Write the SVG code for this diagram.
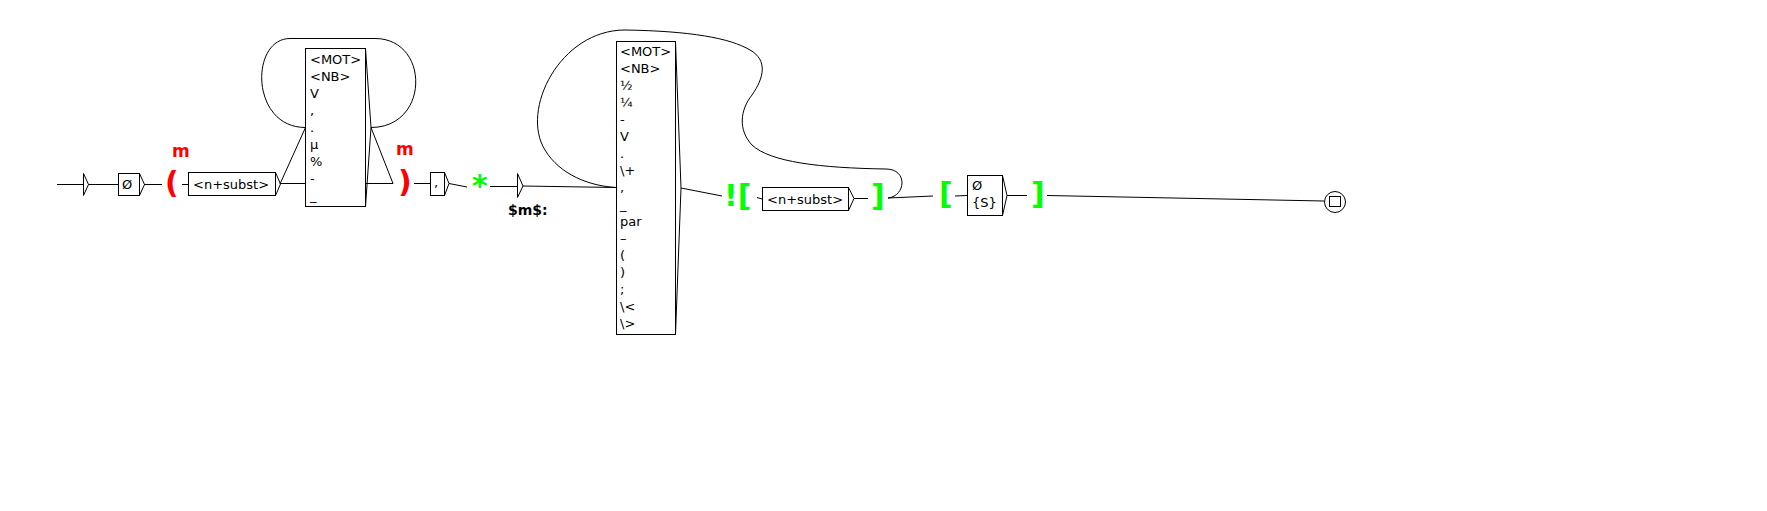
<svg xmlns="http://www.w3.org/2000/svg" width="1767" height="511" viewBox="0 0 1767 511">
<style>
.l{stroke:#000;stroke-width:1;fill:none}
.b{fill:#fff;stroke:#000;stroke-width:1}
.t{font-family:"DejaVu Sans",sans-serif;font-size:13px;fill:#000}
.c{font-family:"DejaVu Sans",sans-serif;font-size:30px;font-weight:bold}
.v{font-family:"DejaVu Sans",sans-serif;font-size:17px;font-weight:bold;fill:#f00}
.r{fill:#f00}
.g{fill:#0f0}
</style>
<rect width="1767" height="511" fill="#fff"/>
<g id="connectors" class="l">
<line x1="57" y1="184.5" x2="83" y2="184.5"/>
<line x1="88" y1="184.5" x2="118" y2="184.5"/>
<line x1="144" y1="184.5" x2="162" y2="184.5"/>
<line x1="182" y1="184.5" x2="188" y2="184.5"/>
<line x1="280" y1="184" x2="305.5" y2="127.5"/>
<line x1="280" y1="183.5" x2="305.5" y2="183.5"/>
<path d="M371,127.5 C430,127.5 430,38.5 375,38.5 L290,38.5 C250,38.5 250,127.5 305.5,127.5"/>
<line x1="371" y1="127.5" x2="393" y2="183.5"/>
<line x1="364.5" y1="183.5" x2="393" y2="183.5"/>
<line x1="414" y1="183.5" x2="430" y2="183.5"/>
<line x1="449" y1="183.5" x2="467" y2="187"/>
<line x1="490" y1="186.5" x2="517" y2="186.5"/>
<line x1="523" y1="186" x2="616" y2="187.5"/>
<path d="M888,198 C906,196 908,169 886,169 C820,168 770,162 752,145 C738,130 740,110 752,95 C764,78 768,60 750,50 C730,38 690,31 625,30 C560,30 520,110 545,150 C560,175 590,186 616,187.5"/>
<line x1="681" y1="188" x2="722" y2="196"/>
<line x1="757" y1="197.5" x2="762" y2="199"/>
<line x1="854" y1="198.5" x2="868" y2="198.5"/>
<line x1="888" y1="198" x2="933" y2="196"/>
<line x1="955" y1="196" x2="967" y2="195.5"/>
<line x1="1007" y1="195.5" x2="1027" y2="195.5"/>
<line x1="1047" y1="195.5" x2="1324" y2="201"/>
</g>
<g id="init">
<polygon class="b" points="83.5,173.5 88.5,184.5 83.5,195.5"/>
</g>
<g id="box-empty1">
<rect class="b" x="118.5" y="173.5" width="21" height="22"/>
<polyline class="l" points="139.5,173.5 144.5,184.5 139.5,195.5"/>
<text class="t" x="122" y="189">Ø</text>
</g>
<g id="var-open">
<text class="v" x="172" y="157">m</text>
<text class="c r" x="165" y="193">(</text>
</g>
<g id="box-subst1">
<rect class="b" x="188.5" y="172.5" width="87" height="23"/>
<polyline class="l" points="275.5,172.5 280.5,184 275.5,195.5"/>
<text class="t" x="193" y="188.5">&lt;n+subst&gt;</text>
</g>
<g id="box-tokens1">
<rect class="b" x="305.5" y="48.5" width="60" height="158"/>
<polyline class="l" points="365.5,48.5 371,127.5 365.5,206.5"/>
<text class="t" x="310" y="64">&lt;MOT&gt;</text>
<text class="t" x="310" y="81">&lt;NB&gt;</text>
<text class="t" x="310" y="98">V</text>
<text class="t" x="310" y="115">,</text>
<text class="t" x="310" y="132">.</text>
<text class="t" x="310" y="149">µ</text>
<text class="t" x="310" y="166">%</text>
<text class="t" x="310" y="183">-</text>
<text class="t" x="310" y="200">_</text>
</g>
<g id="var-close">
<text class="v" x="396" y="155">m</text>
<text class="c r" x="398" y="192">)</text>
</g>
<g id="box-comma">
<rect class="b" x="430.5" y="172.5" width="14" height="23"/>
<polyline class="l" points="444.5,172.5 449,183.5 444.5,195.5"/>
<text class="t" x="434" y="187">,</text>
</g>
<g id="star">
<text class="c g" x="472" y="196">*</text>
</g>
<g id="state-m">
<polygon class="b" points="517.5,173.5 523,186 517.5,197.5"/>
<text x="508" y="215" font-family="DejaVu Sans, sans-serif" font-size="14" font-weight="bold">$m$:</text>
</g>
<g id="box-tokens2">
<rect class="b" x="616.5" y="41.5" width="59" height="293"/>
<polyline class="l" points="675.5,41.5 681,188 675.5,334.5"/>
<text class="t" x="620" y="56">&lt;MOT&gt;</text>
<text class="t" x="620" y="73">&lt;NB&gt;</text>
<text class="t" x="620" y="90">½</text>
<text class="t" x="620" y="107">¼</text>
<text class="t" x="620" y="124">-</text>
<text class="t" x="620" y="141">V</text>
<text class="t" x="620" y="158">.</text>
<text class="t" x="620" y="175">\+</text>
<text class="t" x="620" y="192">,</text>
<text class="t" x="620" y="209">_</text>
<text class="t" x="620" y="226">par</text>
<text class="t" x="620" y="243">–</text>
<text class="t" x="620" y="260">(</text>
<text class="t" x="620" y="277">)</text>
<text class="t" x="620" y="294">;</text>
<text class="t" x="620" y="311">\&lt;</text>
<text class="t" x="620" y="328">\&gt;</text>
</g>
<g id="neg-open">
<text class="c g" x="724" y="206">![</text>
</g>
<g id="box-subst2">
<rect class="b" x="762.5" y="187.5" width="86" height="23"/>
<polyline class="l" points="848.5,187.5 854,198.5 848.5,210.5"/>
<text class="t" x="767" y="203.5">&lt;n+subst&gt;</text>
</g>
<g id="neg-close">
<text class="c g" x="871" y="206">]</text>
</g>
<g id="ctx-open">
<text class="c g" x="939" y="204">[</text>
</g>
<g id="box-S">
<rect class="b" x="967.5" y="175.5" width="35" height="40"/>
<polyline class="l" points="1002.5,175.5 1007,195.5 1002.5,215.5"/>
<text class="t" x="972" y="190">Ø</text>
<text class="t" x="972" y="207">{S}</text>
</g>
<g id="ctx-close">
<text class="c g" x="1031" y="204">]</text>
</g>
<g id="final">
<circle class="b" cx="1335" cy="202" r="10.5"/>
<rect class="l" x="1329.5" y="196.5" width="11" height="10"/>
</g>
</svg>
